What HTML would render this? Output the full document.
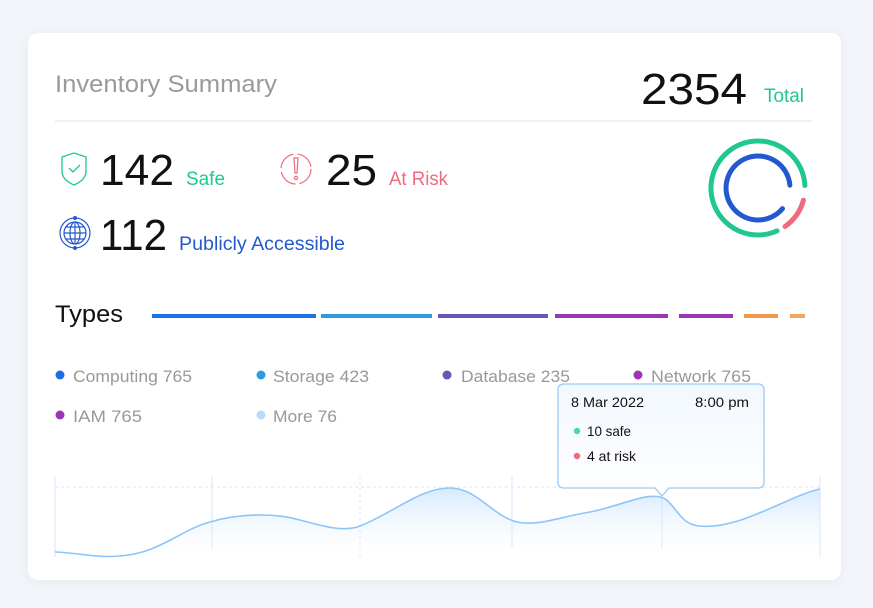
<!DOCTYPE html>
<html><head><meta charset="utf-8"><style>
html,body{margin:0;padding:0;background:#f3f5fa;}
svg{display:block;font-family:"Liberation Sans",sans-serif;}
</style></head><body>
<svg width="873" height="608" viewBox="0 0 873 608" xmlns="http://www.w3.org/2000/svg">
<defs>
<filter id="sh" x="-10%" y="-10%" width="120%" height="120%"><feDropShadow dx="0" dy="2" stdDeviation="6" flood-color="#c8d0e0" flood-opacity="0.35"/></filter>
<linearGradient id="ag" x1="0" y1="0" x2="0" y2="1"><stop offset="0" stop-color="#a9d1fb" stop-opacity="0.85"/><stop offset="1" stop-color="#ffffff" stop-opacity="0.2"/></linearGradient>
<linearGradient id="tg" x1="0" y1="0" x2="0" y2="1"><stop offset="0" stop-color="#f2f8ff"/><stop offset="1" stop-color="#ffffff"/></linearGradient>
</defs>
<rect x="0" y="0" width="873" height="608" fill="#f3f5fa"/>
<rect x="28" y="33" width="813" height="547" rx="10" fill="#fff" filter="url(#sh)"/>

<text x="55" y="92" font-size="24" fill="#9a9a9a" textLength="222" lengthAdjust="spacingAndGlyphs">Inventory Summary</text>
<text x="641" y="104" font-size="44" fill="#111" textLength="106" lengthAdjust="spacingAndGlyphs">2354</text>
<text x="764" y="102" font-size="19" fill="#1ec98b" textLength="40" lengthAdjust="spacingAndGlyphs">Total</text>
<line x1="55" y1="121" x2="812" y2="121" stroke="#ececec" stroke-width="1.5"/>

<!-- shield -->
<path d="M74 153 L86 157 L86 171 Q86 180 74 185 Q62 180 62 171 L62 157 Z" fill="none" stroke="#1ec98b" stroke-width="1.3"/>
<path d="M69 168 L73 172 L80 165" fill="none" stroke="#1ec98b" stroke-width="1.3"/>
<text x="100" y="185" font-size="44" fill="#111" textLength="74" lengthAdjust="spacingAndGlyphs">142</text>
<text x="186" y="185" font-size="19" fill="#1ec98b" textLength="39" lengthAdjust="spacingAndGlyphs">Safe</text>

<!-- risk icon -->
<circle cx="296" cy="169" r="15" fill="none" stroke="#f06a7f" stroke-width="1.2" stroke-dasharray="20 4"/>
<path d="M294 158 L298 158 L297 173 L295 173 Z" fill="none" stroke="#f06a7f" stroke-width="1.2"/>
<circle cx="296" cy="178" r="1.6" fill="none" stroke="#f06a7f" stroke-width="1.2"/>
<text x="326" y="185" font-size="44" fill="#111" textLength="51" lengthAdjust="spacingAndGlyphs">25</text>
<text x="389" y="185" font-size="19" fill="#f06a7f" textLength="59" lengthAdjust="spacingAndGlyphs">At Risk</text>

<!-- globe -->
<g fill="none" stroke="#2458d0" stroke-width="1.2">
<circle cx="75" cy="233" r="15"/>
<circle cx="75" cy="233" r="11"/>
<ellipse cx="75" cy="233" rx="5" ry="11"/>
<line x1="75" y1="222" x2="75" y2="244"/>
<line x1="64" y1="233" x2="86" y2="233"/>
<line x1="66" y1="227" x2="84" y2="227"/>
<line x1="66" y1="239" x2="84" y2="239"/>
</g>
<circle cx="75" cy="218" r="2" fill="#2458d0"/><circle cx="75" cy="248" r="2" fill="#2458d0"/>
<text x="100" y="250" font-size="44" fill="#111" textLength="67" lengthAdjust="spacingAndGlyphs">112</text>
<text x="179" y="250" font-size="19" fill="#2458d0" textLength="166" lengthAdjust="spacingAndGlyphs">Publicly Accessible</text>

<!-- donut -->
<g fill="none" stroke-linecap="round" stroke-width="5">
<path d="M804.9 185.5 A47 47 0 1 0 777.1 230.9" stroke="#1ec98b"/>
<path d="M803.4 200.2 A47 47 0 0 1 785 226.5" stroke="#f06a7f"/>
<path d="M789.9 185.2 A32 32 0 1 0 782.5 208.6" stroke="#2458d0"/>
</g>

<text x="55" y="322" font-size="24" fill="#111" textLength="68" lengthAdjust="spacingAndGlyphs">Types</text>
<g stroke-width="4">
<line x1="152" y1="316" x2="316" y2="316" stroke="#1a73e8"/>
<line x1="321" y1="316" x2="432" y2="316" stroke="#2d9be0"/>
<line x1="438" y1="316" x2="548" y2="316" stroke="#6b55b5"/>
<line x1="555" y1="316" x2="668" y2="316" stroke="#9b35b5"/>
<line x1="679" y1="316" x2="733" y2="316" stroke="#9b35b5"/>
<line x1="744" y1="316" x2="778" y2="316" stroke="#f0974a"/>
<line x1="790" y1="316" x2="805" y2="316" stroke="#f0a860"/>
</g>

<g font-size="17" fill="#999">
<circle cx="60" cy="375" r="4.5" fill="#1a6fe8"/><text x="73" y="382" textLength="119" lengthAdjust="spacingAndGlyphs">Computing 765</text>
<circle cx="261" cy="375" r="4.5" fill="#2d9be0"/><text x="273" y="382" textLength="96" lengthAdjust="spacingAndGlyphs">Storage 423</text>
<circle cx="447" cy="375" r="4.5" fill="#6b55b5"/><text x="461" y="382" textLength="109" lengthAdjust="spacingAndGlyphs">Database 235</text>
<circle cx="638" cy="375" r="4.5" fill="#9b35b5"/><text x="651" y="382" textLength="100" lengthAdjust="spacingAndGlyphs">Network 765</text>
<circle cx="60" cy="415" r="4.5" fill="#9b35b5"/><text x="73" y="422" textLength="69" lengthAdjust="spacingAndGlyphs">IAM  765</text>
<circle cx="261" cy="415" r="4.5" fill="#b9dbf9"/><text x="273" y="422" textLength="64" lengthAdjust="spacingAndGlyphs">More 76</text>
</g>

<!-- chart grid -->
<g stroke="#dcebfb" stroke-width="1.2">
<line x1="55" y1="476" x2="55" y2="557"/>
<line x1="212" y1="476" x2="212" y2="548"/>
<line x1="360" y1="476" x2="360" y2="557" stroke-dasharray="3 3"/>
<line x1="512" y1="476" x2="512" y2="548"/>
<line x1="662" y1="476" x2="662" y2="548"/>
<line x1="820" y1="476" x2="820" y2="557"/>
<line x1="55" y1="487" x2="820" y2="487" stroke-dasharray="3 3"/>
</g>
<path d="M55 552 C80 553 95 558 120 556 C160 553 180 530 210 522 C240 513 275 513 300 520 C325 527 345 532 360 526 C395 512 420 488 450 488 C480 488 495 522 525 523 C545 524 560 517 590 512 C620 506 645 493 660 497 C675 500 678 525 700 526 C740 530 790 495 820 489 L820 557 L55 557 Z" fill="url(#ag)" opacity="0.55"/>
<path d="M55 552 C80 553 95 558 120 556 C160 553 180 530 210 522 C240 513 275 513 300 520 C325 527 345 532 360 526 C395 512 420 488 450 488 C480 488 495 522 525 523 C545 524 560 517 590 512 C620 506 645 493 660 497 C675 500 678 525 700 526 C740 530 790 495 820 489" fill="none" stroke="#8ec5fa" stroke-width="1.6"/>

<!-- tooltip -->
<path d="M564 384 H758 Q764 384 764 390 V482 Q764 488 758 488 H669 L662 496 L655 488 H564 Q558 488 558 482 V390 Q558 384 564 384 Z" fill="url(#tg)" stroke="#9ccaf5" stroke-width="1.3"/>
<g font-size="14" fill="#111">
<text x="571" y="407" textLength="73" lengthAdjust="spacingAndGlyphs">8 Mar 2022</text>
<text x="695" y="407" textLength="54" lengthAdjust="spacingAndGlyphs">8:00 pm</text>
<circle cx="577" cy="431" r="3.2" fill="#4dd6a0"/><text x="587" y="436" textLength="44" lengthAdjust="spacingAndGlyphs">10 safe</text>
<circle cx="577" cy="456" r="3.2" fill="#f06a7f"/><text x="587" y="461" textLength="49" lengthAdjust="spacingAndGlyphs">4 at risk</text>
</g>
</svg>
</body></html>
